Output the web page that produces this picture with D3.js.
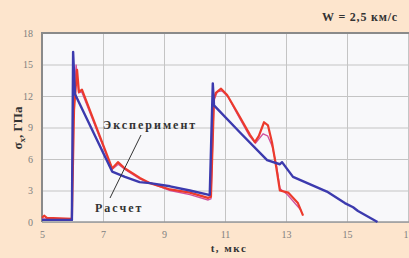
<!DOCTYPE html>
<html>
<head>
<meta charset="utf-8">
<script src="https://cdnjs.cloudflare.com/ajax/libs/d3/7.8.5/d3.min.js"></script>
<style>
body { margin: 0; background: #fde5cd; }
svg { display: block; }
.tick text { font-family: "Liberation Serif", serif; font-size: 10px; fill: #808080; }
.lbl { font-family: "Liberation Serif", serif; font-weight: bold; fill: #333; }
</style>
</head>
<body>
<svg width="409" height="258"></svg>
<script>
var xTicks = [5, 7, 9, 11, 13, 15, 17];
var yTicks = [0, 3, 6, 9, 12, 15, 18];

// Расчет
var calcT = [5.0, 5.98, 6.02, 6.08, 7.3, 7.72, 8.2, 8.54, 9.2, 9.85, 10.44, 10.5, 10.6, 10.64, 11.5, 12.38, 12.8, 12.87, 13.23, 14.34, 14.93, 15.2, 15.36, 16.0];
var calcS = [0.2, 0.2, 16.2, 12.2, 4.8, 4.3, 3.8, 3.7, 3.4, 3.0, 2.6, 2.6, 13.2, 11.1, 8.5, 5.9, 5.5, 5.7, 4.3, 2.9, 1.8, 1.4, 1.05, 0];

// Эксперимент
var expT = [5.0, 5.07, 5.16, 5.98, 6.05, 6.15, 6.21, 6.31, 7.3, 7.49, 7.72, 8.21, 8.54, 9.2, 9.85, 10.44, 10.54, 10.64, 10.7, 10.87, 11.07, 11.39, 11.82, 11.98, 12.11, 12.28, 12.41, 12.54, 12.67, 12.8, 13.07, 13.39, 13.56];
var expS = [0.4, 0.6, 0.4, 0.3, 10.7, 14.5, 12.4, 12.6, 5.1, 5.7, 5.1, 4.2, 3.7, 3.1, 2.8, 2.3, 2.4, 11.8, 12.3, 12.7, 12.1, 10.5, 8.3, 7.6, 8.2, 9.5, 9.2, 7.6, 5.4, 3.0, 2.8, 1.8, 0.6];

// второй эксперимент (тонкая линия)
var exp2T = [5.0, 5.98, 6.04, 6.12, 6.2, 6.3, 7.3, 7.5, 7.72, 8.2, 9.2, 9.85, 10.44, 10.54, 10.64, 10.75, 10.9, 11.1, 11.4, 11.8, 12.0, 12.25, 12.4, 12.55, 12.7, 12.8, 13.05, 13.35, 13.5];
var exp2S = [0.3, 0.2, 12.0, 15.0, 12.3, 12.4, 5.0, 5.5, 5.0, 4.1, 3.0, 2.6, 2.1, 2.2, 11.6, 12.4, 12.5, 11.9, 10.3, 8.2, 7.5, 8.4, 8.2, 7.2, 5.2, 3.2, 2.6, 1.6, 1.1];

var svg = d3.select("svg");
var x = d3.scaleLinear().domain([5, 17]).range([42, 408]);
var y = d3.scaleLinear().domain([0, 18]).range([222, 33]);

svg.append("rect")
  .attr("x", x(5)).attr("y", y(18))
  .attr("width", 409 - x(5)).attr("height", y(0) - y(18))
  .attr("fill", "#f8f8fa");

svg.append("g")
  .attr("transform", "translate(0," + y(0) + ")")
  .call(d3.axisBottom(x).tickValues(xTicks).tickSize(-(y(0) - y(18))).tickPadding(9))
  .call(function (g) { g.select(".domain").remove(); })
  .call(function (g) { g.selectAll("line").attr("stroke", "#c4c4c4"); });

svg.append("g")
  .attr("transform", "translate(" + x(5) + ",0)")
  .call(d3.axisLeft(y).tickValues(yTicks).tickSize(-(409 - x(5))).tickPadding(9))
  .call(function (g) { g.select(".domain").remove(); })
  .call(function (g) { g.selectAll("line").attr("stroke", "#c4c4c4"); });

// рамка
svg.append("path")
  .attr("d", "M" + x(5) + "," + y(0) + "V" + y(18) + "H409")
  .attr("fill", "none").attr("stroke", "#8a8a8a").attr("stroke-width", 2);
svg.append("line")
  .attr("x1", x(5)).attr("x2", 409).attr("y1", y(0)).attr("y2", y(0))
  .attr("stroke", "#9a9a9a").attr("stroke-width", 1.5);

var line = d3.line().x(function (d) { return x(d[0]); }).y(function (d) { return y(d[1]); });

svg.append("path")
  .datum(exp2T.map(function (t, i) { return [t, exp2S[i]]; }))
  .attr("d", line).attr("fill", "none")
  .attr("stroke", "#d0509e").attr("stroke-width", 1.3);

svg.append("path")
  .datum(expT.map(function (t, i) { return [t, expS[i]]; }))
  .attr("d", line).attr("fill", "none")
  .attr("stroke", "#ec3a2c").attr("stroke-width", 2.2).attr("stroke-linejoin", "round");

svg.append("path")
  .datum(calcT.map(function (t, i) { return [t, calcS[i]]; }))
  .attr("d", line).attr("fill", "none")
  .attr("stroke", "#3c3aae").attr("stroke-width", 2.4).attr("stroke-linejoin", "round");

// подписи
svg.append("line")
  .attr("x1", 141).attr("y1", 135).attr("x2", 110).attr("y2", 198)
  .attr("stroke", "#333").attr("stroke-width", 1);

svg.append("text").attr("class", "lbl")
  .attr("x", 103).attr("y", 129).attr("font-size", 12).attr("letter-spacing", 2)
  .text("Эксперимент");
svg.append("text").attr("class", "lbl")
  .attr("x", 95).attr("y", 212).attr("font-size", 12).attr("letter-spacing", 2)
  .text("Расчет");

svg.append("text").attr("class", "lbl")
  .attr("x", 322).attr("y", 21).attr("font-size", 12).attr("letter-spacing", 0.8)
  .attr("xml:space", "preserve")
  .text("W = 2,5 км/с");

svg.append("text").attr("class", "lbl")
  .attr("x", 229).attr("y", 252).attr("font-size", 11).attr("letter-spacing", 1.5)
  .attr("text-anchor", "middle")
  .text("t, мкс");

var yl = svg.append("text").attr("class", "lbl")
  .attr("transform", "translate(22,128) rotate(-90)")
  .attr("font-size", 13).attr("text-anchor", "middle");
yl.append("tspan").text("σ");
yl.append("tspan").attr("font-size", 9).attr("dy", 3).text("x");
yl.append("tspan").attr("dy", -3).text(", ГПа");
</script>
</body>
</html>
